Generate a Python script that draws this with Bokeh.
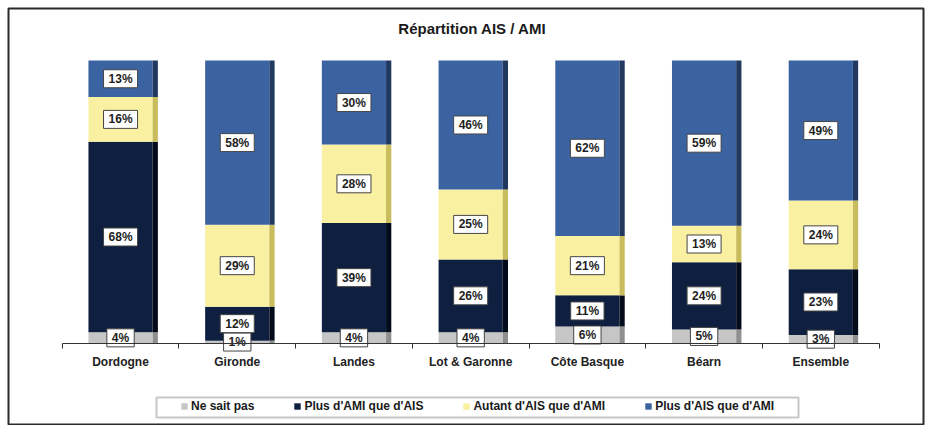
import numpy as np
from bokeh.plotting import figure
from bokeh.models import ColumnDataSource, Range1d, FixedTicker, Legend, LegendItem, Label, LinearAxis, BoxAnnotation
from bokeh.transform import dodge
from bokeh.core.properties import value
from bokeh.embed import file_html
from bokeh.resources import INLINE

title = "Répartition AIS / AMI"
categories = ["Dordogne", "Gironde", "Landes", "Lot & Garonne", "Côte Basque", "Béarn", "Ensemble"]
series_names = ["Ne sait pas", "Plus d'AMI que d'AIS", "Autant d'AIS que d'AMI", "Plus d'AIS que d'AMI"]
ne_sait_pas = [4, 1, 4, 4, 6, 5, 3]
plus_ami = [68, 12, 39, 26, 11, 24, 23]
autant = [16, 29, 28, 25, 21, 13, 24]
plus_ais = [13, 58, 30, 46, 62, 59, 49]

front_colors = ["#C6C6C6", "#0E1F40", "#FAF0A2", "#3B63A2"]
side_colors = ["#8F8F8F", "#040B1A", "#C9BC5C", "#21395F"]
FONT = "Liberation Sans"

raw = [ne_sait_pas, plus_ami, autant, plus_ais]
keys = ["nsp", "ami", "aut", "ais"]
x = np.arange(len(categories))
tot = np.sum(np.array(raw), axis=0)
data = {"x": x}
for k, r in zip(keys, raw):
    data[k] = np.array(r) / tot * 100.0
src = ColumnDataSource(data)

# label positions (segment midpoints)
lx, ly, lt = [], [], []
base = np.zeros(len(categories))
for k, r in zip(keys, raw):
    seg = data[k]
    mid = base + seg / 2.0
    lx.extend(x.tolist())
    ly.extend(mid.tolist())
    lt.extend([f"{v}%" for v in r])
    base = base + seg
lsrc = ColumnDataSource(dict(x=lx, y=ly, t=lt))

p = figure(width=931, height=425, x_range=Range1d(-0.96, 6.88), y_range=Range1d(-29.0, 118.4),
           output_backend="svg", toolbar_location=None,
           min_border_left=8, min_border_top=8, min_border_right=8, min_border_bottom=0,
           x_axis_location=None, y_axis_location=None,
           background_fill_color="white", border_fill_color="white",
           outline_line_color="#2b2b2b", outline_line_width=2)
p.grid.visible = False

front = p.vbar_stack(keys, x="x", width=0.55, color=front_colors, source=src, line_color=None)
p.vbar_stack(keys, x=dodge("x", 0.2975), width=0.045, color=side_colors, source=src, line_color=None)

p.text(x="x", y="y", text="t", source=lsrc, text_align="center", text_baseline="middle",
       text_font=value(FONT), text_font_size="12px", text_font_style="bold", text_color="#1e1e1e",
       background_fill_color="white", border_line_color="#444444", border_line_width=1, padding=(5, 2))

ax = LinearAxis(fixed_location=0)
ax.ticker = FixedTicker(ticks=x.tolist(), minor_ticks=(np.arange(len(categories) + 1) - 0.5).tolist())
ax.major_label_overrides = {int(i): c for i, c in zip(x, categories)}
ax.bounds = (-0.5, len(categories) - 0.5)
ax.major_tick_in = 0
ax.major_tick_out = 0
ax.minor_tick_in = 0
ax.minor_tick_out = 5
ax.axis_line_color = "#333333"
ax.minor_tick_line_color = "#333333"
ax.major_label_standoff = 7
ax.major_label_text_font = FONT
ax.major_label_text_font_size = "12px"
ax.major_label_text_font_style = "bold"
ax.major_label_text_color = "#222222"
p.add_layout(ax, "below")

p.add_layout(Label(x=464, y=397, x_units="screen", y_units="screen", text=title,
                   text_align="center", text_baseline="middle", text_font=FONT,
                   text_font_size="15px", text_font_style="bold", text_color="#1a1a1a"))

p.add_layout(BoxAnnotation(left=148, right=790, bottom=8, top=28,
                           left_units="screen", right_units="screen",
                           bottom_units="screen", top_units="screen",
                           fill_color="white", fill_alpha=1.0,
                           line_color="#444444", line_width=2))

legend = Legend(items=[LegendItem(label=n, renderers=[r]) for n, r in zip(series_names, front)],
                orientation="horizontal", location=(170, 10),
                border_line_alpha=0, background_fill_alpha=0,
                label_text_font=FONT, label_text_font_size="12px", label_text_font_style="bold",
                label_text_color="#1a1a1a", glyph_width=8, glyph_height=8, label_standoff=3,
                spacing=39, padding=2, margin=0, label_height=12)
p.add_layout(legend)

open("out.html", "w").write(file_html(p, INLINE))
